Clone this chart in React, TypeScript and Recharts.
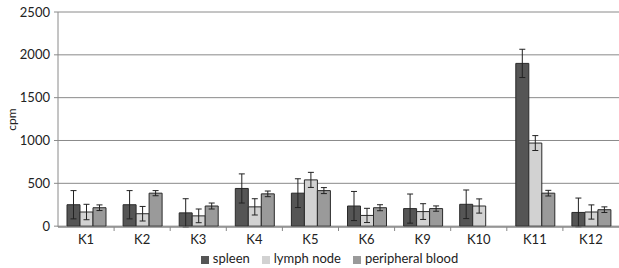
import React from "react";
import {
  BarChart,
  Bar,
  XAxis,
  YAxis,
  CartesianGrid,
  ErrorBar,
  Legend,
} from "recharts";

const categories = ["K1", "K2", "K3", "K4", "K5", "K6", "K9", "K10", "K11", "K12"];
const seriesNames = ["spleen", "lymph node", "peripheral blood"];
const spleen = [250, 250, 155, 440, 385, 235, 205, 255, 1900, 160];
const spleenErr = [165, 165, 165, 170, 168, 170, 170, 167, 165, 168];
const lymphNode = [165, 145, 120, 225, 540, 125, 170, 235, 970, 165];
const lymphNodeErr = [90, 85, 80, 95, 88, 83, 92, 83, 87, 83];
const peripheralBlood = [215, 385, 235, 377, 415, 215, 205, null, 385, 192];
const peripheralBloodErr = [33, 30, 35, 33, 35, 35, 31, null, 33, 33];
const yTicks = [0, 500, 1000, 1500, 2000, 2500];

const data = categories.map((name, i) => ({
  name,
  spleen: spleen[i],
  spleenErr: spleenErr[i],
  lymph: lymphNode[i],
  lymphErr: lymphNodeErr[i],
  blood: peripheralBlood[i],
  bloodErr: peripheralBloodErr[i],
}));

const FONT = "Lato, 'Open Sans', sans-serif";
const W = 619;
const H = 268;
const LEFT = 58;
const HALF_BAND = (W - LEFT) / categories.length / 2;

function XTick({ x, y, payload, index }: any) {
  return (
    <g>
      {index < categories.length - 1 && (
        <line x1={x + HALF_BAND} x2={x + HALF_BAND} y1={y} y2={y + 4} stroke="#888" />
      )}
      <text x={x} y={y + 17} textAnchor="middle" fontSize={13} fill="#222" fontFamily={FONT}>
        {payload.value}
      </text>
    </g>
  );
}

export default function App() {
  return (
    <div style={{ width: W, height: H, background: "#fff" }}>
      <style>{`body{margin:0} .recharts-legend-item{margin-right:12px !important}`}</style>
      <BarChart
        width={W}
        height={H}
        data={data}
        margin={{ top: 12, right: 0, left: 0, bottom: 2 }}
        barCategoryGap={9}
        barGap={0}
      >
        <CartesianGrid vertical={false} stroke="#8a8a8a" />
        <XAxis
          dataKey="name"
          tick={<XTick />}
          tickLine={false}
          tickSize={0}
          tickMargin={0}
          axisLine={{ stroke: "#8a8a8a" }}
          height={23}
          interval={0}
        />
        <YAxis
          width={LEFT}
          domain={[0, 2500]}
          ticks={yTicks}
          tickSize={4}
          tickMargin={4}
          tick={{ fontSize: 13, fill: "#222", fontFamily: FONT }}
          tickLine={{ stroke: "#8a8a8a" }}
          axisLine={{ stroke: "#8a8a8a" }}
          label={{
            value: "cpm",
            angle: -90,
            position: "insideLeft",
            offset: 12,
            style: { fontSize: 12, fill: "#222", fontFamily: FONT, textAnchor: "middle" },
          }}
        />
        <Legend
          iconType="square"
          iconSize={8}
          verticalAlign="bottom"
          itemSorter={(item: any) => seriesNames.indexOf(item.value)}
          wrapperStyle={{ fontSize: 13, fontFamily: FONT, color: "#222", left: 26 }}
          formatter={(v: string) => <span style={{ color: "#222" }}>{v}</span>}
        />
        <Bar dataKey="spleen" name={seriesNames[0]} fill="#555555" stroke="#2a2a2a" isAnimationActive={false}>
          <ErrorBar dataKey="spleenErr" width={3} stroke="#222" strokeWidth={1} />
        </Bar>
        <Bar dataKey="lymph" name={seriesNames[1]} fill="#d2d2d2" stroke="#2a2a2a" isAnimationActive={false}>
          <ErrorBar dataKey="lymphErr" width={3} stroke="#222" strokeWidth={1} />
        </Bar>
        <Bar dataKey="blood" name={seriesNames[2]} fill="#9a9a9a" stroke="#2a2a2a" isAnimationActive={false}>
          <ErrorBar dataKey="bloodErr" width={3} stroke="#222" strokeWidth={1} />
        </Bar>
      </BarChart>
    </div>
  );
}
